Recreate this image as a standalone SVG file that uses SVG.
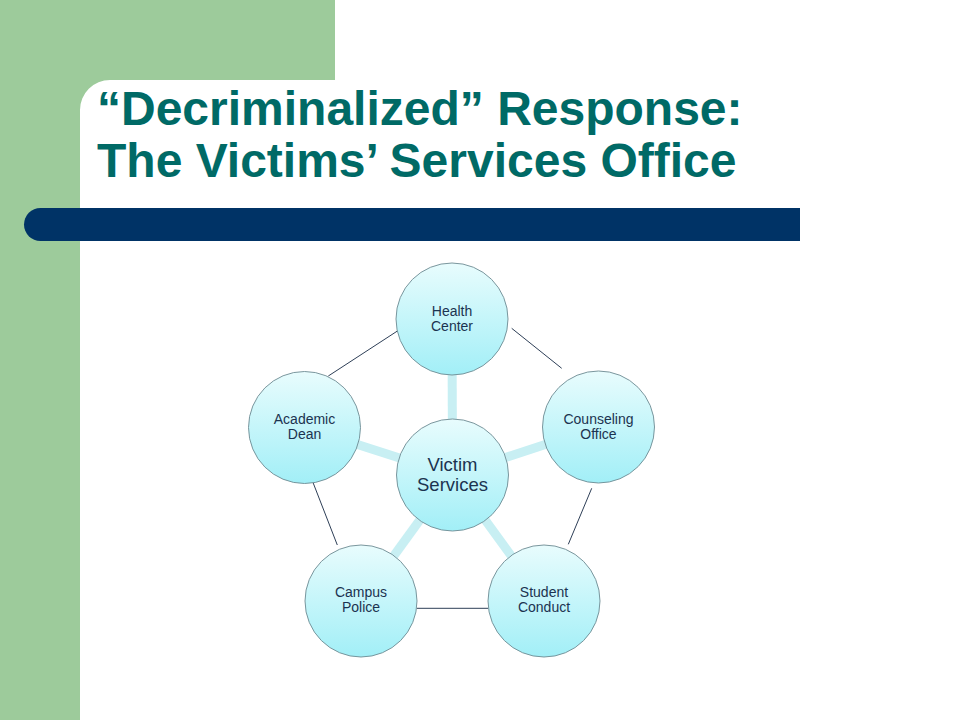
<svg xmlns="http://www.w3.org/2000/svg" width="960" height="720" viewBox="0 0 960 720">
  <defs>
    <linearGradient id="ball" x1="0" y1="0" x2="0" y2="1">
      <stop offset="0" stop-color="#e8fcfd"/>
      <stop offset="1" stop-color="#a2eff7"/>
    </linearGradient>
    <style>
      .title { font-family: "Liberation Sans", Arial, sans-serif; font-weight: bold; font-size: 48px; fill: #006a66; }
      .node circle { fill: url(#ball); stroke: #6d8a92; stroke-width: 0.9; }
      .lbl { font-family: "Liberation Sans", Arial, sans-serif; font-size: 14px; fill: #1b3350; text-anchor: middle; }
      .big { font-size: 18.5px; }
      .spoke { stroke: #c8eff3; stroke-width: 9; fill: none; }
      .link { stroke: #2e3f57; stroke-width: 1; fill: none; }
    </style>
  </defs>
  <rect width="960" height="720" fill="#ffffff"/>
  <path d="M0 0 H335 V80 H110 A30 30 0 0 0 80 110 V720 H0 Z" fill="#9dcb9b"/>
  <path d="M40.5 208 H800 V241 H40.5 A16.5 16.5 0 0 1 40.5 208 Z" fill="#003366"/>
  <text class="title" x="97" y="125">“Decriminalized” Response:</text>
  <text class="title" x="97" y="177">The Victims’ Services Office</text>

  <g id="connectors">
    <line class="spoke" x1="452.5" y1="475" x2="452" y2="319"/>
    <line class="spoke" x1="452.5" y1="475" x2="598.5" y2="427"/>
    <line class="spoke" x1="452.5" y1="475" x2="544" y2="601"/>
    <line class="spoke" x1="452.5" y1="475" x2="361" y2="601"/>
    <line class="spoke" x1="452.5" y1="475" x2="304.5" y2="427.5"/>
    <line class="link" x1="511.7" y1="328.3" x2="561.7" y2="368.3"/>
    <line class="link" x1="591.7" y1="488.3" x2="568.3" y2="544.3"/>
    <line class="link" x1="416.7" y1="608.3" x2="488.3" y2="608.3"/>
    <line class="link" x1="312.7" y1="481.7" x2="337.3" y2="545"/>
    <line class="link" x1="328.3" y1="376" x2="400" y2="329.3"/>
  </g>

  <g id="health" class="node">
    <circle cx="452" cy="319" r="56"/>
    <text class="lbl" x="452" y="316">Health</text>
    <text class="lbl" x="452" y="331">Center</text>
  </g>
  <g id="counseling" class="node">
    <circle cx="598.5" cy="427" r="56"/>
    <text class="lbl" x="598.5" y="424">Counseling</text>
    <text class="lbl" x="598.5" y="439">Office</text>
  </g>
  <g id="student" class="node">
    <circle cx="544" cy="601" r="56"/>
    <text class="lbl" x="544" y="597">Student</text>
    <text class="lbl" x="544" y="612">Conduct</text>
  </g>
  <g id="police" class="node">
    <circle cx="361" cy="601" r="56"/>
    <text class="lbl" x="361" y="597">Campus</text>
    <text class="lbl" x="361" y="612">Police</text>
  </g>
  <g id="dean" class="node">
    <circle cx="304.5" cy="427.5" r="56"/>
    <text class="lbl" x="304.5" y="424">Academic</text>
    <text class="lbl" x="304.5" y="439">Dean</text>
  </g>
  <g id="victim" class="node">
    <circle cx="452.5" cy="475" r="56"/>
    <text class="lbl big" x="452.5" y="471">Victim</text>
    <text class="lbl big" x="452.5" y="491">Services</text>
  </g>
</svg>
